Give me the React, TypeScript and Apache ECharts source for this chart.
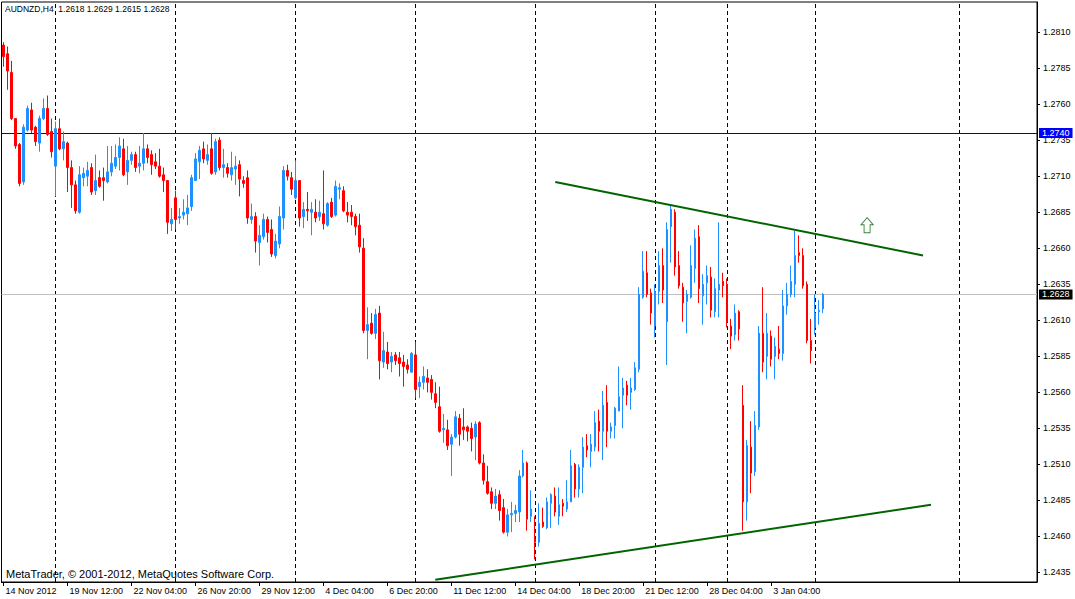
import React, { useEffect, useRef } from "react";
import * as echarts from "echarts";

const chartTitle = "AUDNZD,H4  1.2618 1.2629 1.2615 1.2628";
const copyright = "MetaTrader, © 2001-2012, MetaQuotes Software Corp.";

const opens = [
  1.2801,1.2795,1.2782,1.2750,1.2732,1.2706,1.2742,1.2756,1.2744,1.2733,
  1.2750,1.2757,1.2741,1.2717,1.2743,1.2729,1.2733,1.2716,1.2704,1.2685,
  1.2709,1.2710,1.2716,1.2700,1.2709,1.2709,1.2706,1.2713,1.2717,1.2723,
  1.2729,1.2713,1.2721,1.2725,1.2717,1.2719,1.2729,1.2725,1.2720,1.2717,
  1.2711,1.2707,1.2677,1.2695,1.2681,1.2683,1.2684,1.2689,1.2707,1.2720,
  1.2729,1.2721,1.2729,1.2713,1.2735,1.2716,1.2716,1.2711,1.2715,1.2718,
  1.2707,1.2709,1.2680,1.2682,1.2664,1.2668,1.2680,1.2673,1.2655,1.2663,
  1.2681,1.2714,1.2709,1.2695,1.2707,1.2682,1.2687,1.2685,1.2685,1.2682,
  1.2684,1.2676,1.2692,1.2683,1.2701,1.2700,1.2685,1.2685,1.2682,1.2676,
  1.2660,1.2603,1.2608,1.2601,1.2615,1.2581,1.2588,1.2581,1.2586,1.2584,
  1.2581,1.2579,1.2574,1.2586,1.2564,1.2567,1.2570,1.2569,1.2559,1.2550,
  1.2534,1.2534,1.2524,1.2529,1.2542,1.2536,1.2536,1.2535,1.2529,1.2539,
  1.2511,1.2498,1.2491,1.2483,1.2489,1.2480,1.2463,1.2475,1.2476,1.2477,
  1.2502,1.2511,1.2474,1.2458,1.2456,1.2470,1.2466,1.2483,1.2488,1.2474,
  1.2483,1.2479,1.2484,1.2510,1.2493,1.2508,1.2523,1.2519,1.2522,1.2540,
  1.2533,1.2553,1.2533,1.2537,1.2547,1.2558,1.2565,1.2560,1.2562,1.2576,
  1.2626,1.2643,1.2629,1.2606,1.2630,1.2648,1.2609,1.2675,1.2685,1.2648,
  1.2633,1.2623,1.2626,1.2646,1.2668,1.2627,1.2636,1.2640,1.2616,1.2631,
  1.2637,1.2635,1.2606,1.2600,1.2616,1.2551,1.2484,1.2522,1.2505,1.2536,
  1.2601,1.2585,1.2599,1.2585,1.2590,1.2587,1.2620,1.2628,1.2635,1.2657,
  1.2655,1.2635,1.2596,1.2605,1.2616,1.2618,
];

const highs = [
  1.2803,1.2800,1.2790,1.2750,1.2733,1.2746,1.2759,1.2761,1.2745,1.2752,
  1.2764,1.2766,1.2750,1.2748,1.2750,1.2741,1.2734,1.2721,1.2707,1.2717,
  1.2716,1.2720,1.2719,1.2725,1.2714,1.2716,1.2731,1.2731,1.2732,1.2737,
  1.2736,1.2731,1.2727,1.2727,1.2731,1.2740,1.2732,1.2728,1.2726,1.2729,
  1.2716,1.2707,1.2688,1.2700,1.2688,1.2694,1.2697,1.2711,1.2726,1.2731,
  1.2734,1.2732,1.2740,1.2736,1.2737,1.2729,1.2719,1.2727,1.2724,1.2721,
  1.2710,1.2714,1.2691,1.2685,1.2676,1.2684,1.2682,1.2680,1.2670,1.2689,
  1.2717,1.2718,1.2713,1.2721,1.2707,1.2692,1.2699,1.2692,1.2694,1.2693,
  1.2714,1.2692,1.2695,1.2707,1.2705,1.2703,1.2692,1.2690,1.2684,1.2684,
  1.2667,1.2619,1.2615,1.2618,1.2620,1.2602,1.2595,1.2588,1.2588,1.2588,
  1.2586,1.2583,1.2588,1.2595,1.2571,1.2578,1.2576,1.2572,1.2567,1.2564,
  1.2545,1.2541,1.2531,1.2547,1.2545,1.2549,1.2537,1.2539,1.2540,1.2540,
  1.2517,1.2509,1.2494,1.2493,1.2492,1.2486,1.2479,1.2484,1.2482,1.2506,
  1.2520,1.2512,1.2492,1.2474,1.2483,1.2480,1.2487,1.2490,1.2494,1.2494,
  1.2486,1.2499,1.2520,1.2511,1.2510,1.2529,1.2531,1.2531,1.2547,1.2548,
  1.2561,1.2565,1.2539,1.2550,1.2578,1.2570,1.2568,1.2570,1.2581,1.2633,
  1.2658,1.2658,1.2632,1.2635,1.2658,1.2660,1.2678,1.2690,1.2687,1.2658,
  1.2636,1.2631,1.2662,1.2673,1.2676,1.2642,1.2648,1.2647,1.2639,1.2678,
  1.2643,1.2639,1.2611,1.2621,1.2617,1.2565,1.2527,1.2540,1.2547,1.2606,
  1.2633,1.2615,1.2603,1.2598,1.2606,1.2631,1.2636,1.2648,1.2672,1.2669,
  1.2660,1.2637,1.2611,1.2628,1.2624,1.2629,
];

const lows = [
  1.2786,1.2770,1.2749,1.2729,1.2703,1.2704,1.2741,1.2740,1.2731,1.2727,
  1.2749,1.2738,1.2723,1.2696,1.2728,1.2721,1.2699,1.2688,1.2684,1.2684,
  1.2703,1.2703,1.2697,1.2697,1.2702,1.2693,1.2705,1.2710,1.2715,1.2714,
  1.2710,1.2704,1.2718,1.2713,1.2712,1.2714,1.2719,1.2711,1.2715,1.2709,
  1.2699,1.2670,1.2672,1.2673,1.2677,1.2680,1.2676,1.2686,1.2707,1.2708,
  1.2719,1.2718,1.2711,1.2711,1.2714,1.2709,1.2709,1.2707,1.2704,1.2696,
  1.2702,1.2677,1.2677,1.2657,1.2648,1.2666,1.2664,1.2654,1.2653,1.2660,
  1.2673,1.2707,1.2697,1.2694,1.2675,1.2674,1.2679,1.2669,1.2678,1.2679,
  1.2673,1.2675,1.2681,1.2682,1.2694,1.2685,1.2678,1.2676,1.2669,1.2657,
  1.2601,1.2583,1.2600,1.2597,1.2569,1.2577,1.2576,1.2574,1.2579,1.2571,
  1.2564,1.2573,1.2574,1.2556,1.2556,1.2562,1.2560,1.2555,1.2549,1.2532,
  1.2525,1.2520,1.2502,1.2528,1.2523,1.2527,1.2526,1.2519,1.2513,1.2510,
  1.2496,1.2489,1.2479,1.2479,1.2471,1.2462,1.2460,1.2463,1.2470,1.2470,
  1.2501,1.2464,1.2470,1.2444,1.2453,1.2466,1.2465,1.2466,1.2474,1.2468,
  1.2474,1.2477,1.2484,1.2487,1.2487,1.2490,1.2515,1.2508,1.2519,1.2519,
  1.2513,1.2522,1.2528,1.2528,1.2547,1.2535,1.2551,1.2548,1.2561,1.2574,
  1.2625,1.2626,1.2607,1.2598,1.2621,1.2622,1.2579,1.2650,1.2641,1.2632,
  1.2609,1.2601,1.2625,1.2636,1.2622,1.2607,1.2621,1.2612,1.2612,1.2612,
  1.2626,1.2605,1.2590,1.2596,1.2596,1.2464,1.2471,1.2490,1.2502,1.2534,
  1.2574,1.2569,1.2578,1.2569,1.2583,1.2582,1.2614,1.2626,1.2626,1.2650,
  1.2632,1.2594,1.2580,1.2600,1.2607,1.2615,
];

const closes = [
  1.2793,1.2783,1.2750,1.2731,1.2705,1.2744,1.2757,1.2742,1.2734,1.2750,
  1.2757,1.2739,1.2727,1.2743,1.2729,1.2734,1.2716,1.2704,1.2686,1.2711,
  1.2712,1.2714,1.2699,1.2707,1.2703,1.2707,1.2713,1.2719,1.2723,1.2731,
  1.2711,1.2721,1.2725,1.2716,1.2719,1.2729,1.2723,1.2718,1.2717,1.2710,
  1.2707,1.2678,1.2680,1.2680,1.2682,1.2685,1.2688,1.2709,1.2722,1.2728,
  1.2722,1.2725,1.2712,1.2734,1.2716,1.2718,1.2712,1.2716,1.2717,1.2708,
  1.2705,1.2681,1.2682,1.2665,1.2669,1.2680,1.2671,1.2656,1.2665,1.2682,
  1.2714,1.2710,1.2701,1.2707,1.2681,1.2687,1.2686,1.2687,1.2681,1.2685,
  1.2677,1.2691,1.2682,1.2703,1.2702,1.2686,1.2683,1.2682,1.2675,1.2661,
  1.2603,1.2607,1.2601,1.2614,1.2582,1.2589,1.2580,1.2585,1.2582,1.2580,
  1.2578,1.2576,1.2587,1.2562,1.2567,1.2571,1.2567,1.2560,1.2553,1.2533,
  1.2535,1.2523,1.2529,1.2543,1.2531,1.2534,1.2533,1.2528,1.2538,1.2511,
  1.2499,1.2490,1.2483,1.2488,1.2478,1.2463,1.2475,1.2476,1.2478,1.2502,
  1.2511,1.2472,1.2479,1.2456,1.2469,1.2467,1.2484,1.2489,1.2477,1.2482,
  1.2481,1.2484,1.2509,1.2493,1.2508,1.2522,1.2520,1.2524,1.2539,1.2533,
  1.2551,1.2533,1.2536,1.2549,1.2557,1.2563,1.2558,1.2563,1.2577,1.2628,
  1.2644,1.2628,1.2615,1.2630,1.2648,1.2631,1.2673,1.2687,1.2647,1.2634,
  1.2622,1.2628,1.2648,1.2667,1.2632,1.2635,1.2641,1.2617,1.2632,1.2635,
  1.2634,1.2609,1.2599,1.2615,1.2604,1.2484,1.2523,1.2504,1.2537,1.2601,
  1.2581,1.2601,1.2583,1.2592,1.2587,1.2620,1.2628,1.2637,1.2655,1.2655,
  1.2634,1.2596,1.2589,1.2615,1.2617,1.2628,
];

const barSlots = 259;
const timeLabels = [
  "14 Nov 2012", "19 Nov 12:00", "22 Nov 04:00", "26 Nov 20:00", "29 Nov 12:00",
  "4 Dec 04:00", "6 Dec 20:00", "11 Dec 12:00", "14 Dec 04:00", "18 Dec 20:00",
  "21 Dec 12:00", "28 Dec 04:00", "3 Jan 04:00",
];
const labelStep = 16;
const weekSeparators = [13, 43, 73, 103, 133, 163, 181, 203, 239];
const priceTicks = [
  1.2435, 1.246, 1.2485, 1.251, 1.2535, 1.256, 1.2585, 1.261,
  1.2635, 1.266, 1.2685, 1.271, 1.2735, 1.276, 1.2785, 1.281,
];
const priceMin = 1.24284;
const priceMax = 1.28309;
const horizontalLinePrice = 1.274;
const bidPrice = 1.2628;
const upperTrend = [[138, 1.2706], [230, 1.2655]];
const lowerTrend = [[108, 1.243], [232, 1.2482]];
const arrowPoint = [216, 1.2676];

const FONT = "'Liberation Sans', Arial, sans-serif";

export default function App() {
  const ref = useRef<HTMLDivElement>(null);

  useEffect(() => {
    if (!ref.current) return;
    const chart = echarts.init(ref.current, null, { renderer: "svg" });
    const categories = Array.from({ length: barSlots }, (_, i) => String(i));
    const candles = opens.map((o, i) => [o, closes[i], lows[i], highs[i]]);
    const showIdx = (i: number) => i % labelStep === 0 && i / labelStep < timeLabels.length;

    const priceLabel = (bg: string) => ({
      show: true,
      position: "end",
      distance: 2,
      formatter: (p: any) => Number(p.value).toFixed(4),
      color: "#ffffff",
      backgroundColor: bg,
      padding: [1, 3, 0, 3],
      lineHeight: 9,
      fontFamily: FONT,
      fontSize: 9,
    });

    const option: any = {
      animation: false,
      backgroundColor: "#ffffff",
      grid: {
        left: 1.5,
        right: 38,
        top: 2,
        bottom: 17,
        show: true,
        borderColor: "#000000",
        borderWidth: 1,
        backgroundColor: "#ffffff",
      },
      xAxis: {
        type: "category",
        data: categories,
        boundaryGap: true,
        axisLine: { show: true, lineStyle: { color: "#000000", width: 1 } },
        axisTick: {
          show: true,
          alignWithLabel: true,
          interval: (i: number) => showIdx(i),
          length: 4,
          lineStyle: { color: "#000000" },
        },
        axisLabel: {
          show: true,
          interval: (i: number) => showIdx(i),
          formatter: (_v: string, i: number) =>
            showIdx(i) ? timeLabels[i / labelStep] : "",
          align: "left",
          margin: 4,
          padding: [0, 0, 0, 2],
          color: "#000000",
          fontFamily: FONT,
          fontSize: 9,
        },
        splitLine: { show: false },
      },
      yAxis: {
        type: "value",
        position: "right",
        min: priceMin,
        max: priceMax,
        axisLine: { show: true, lineStyle: { color: "#000000", width: 1 } },
        axisTick: {
          show: true,
          length: 3,
          customValues: priceTicks,
          lineStyle: { color: "#000000" },
        },
        axisLabel: {
          show: true,
          customValues: priceTicks,
          formatter: (v: number) => v.toFixed(4),
          margin: 6,
          color: "#000000",
          fontFamily: FONT,
          fontSize: 9,
        },
        splitLine: { show: false },
      },
      graphic: [
        {
          type: "text",
          left: 5,
          top: 4,
          silent: true,
          style: { text: chartTitle, fill: "#000000", font: `8.5px ${FONT}` },
        },
        {
          type: "text",
          left: 6,
          top: 568,
          silent: true,
          style: { text: copyright, fill: "#000000", font: `11px ${FONT}` },
        },
      ],
      series: [
        {
          type: "candlestick",
          data: candles,
          barWidth: 2,
          itemStyle: {
            color: "#1E90FF",
            color0: "#FF0000",
            borderColor: "#1E90FF",
            borderColor0: "#FF0000",
            borderWidth: 1,
          },
          z: 3,
          markLine: {
            silent: true,
            symbol: ["none", "none"],
            animation: false,
            precision: 5,
            z: 2,
            data: [
              ...weekSeparators.map((i) => ({
                xAxis: i,
                lineStyle: { color: "#000000", type: [4, 3], width: 1 },
                label: { show: false },
              })),
              {
                yAxis: horizontalLinePrice,
                lineStyle: { color: "#0000CD", type: "solid", width: 1 },
                label: priceLabel("#0000FF"),
              },
              {
                yAxis: bidPrice,
                lineStyle: { color: "#C0C0C0", type: "solid", width: 1 },
                label: priceLabel("#000000"),
              },
            ],
          },
        },
        {
          type: "line",
          data: upperTrend,
          symbol: "none",
          silent: true,
          z: 4,
          lineStyle: { color: "#006400", width: 2 },
        },
        {
          type: "line",
          data: lowerTrend,
          symbol: "none",
          silent: true,
          z: 4,
          lineStyle: { color: "#006400", width: 2 },
        },
        {
          type: "scatter",
          data: [arrowPoint],
          symbol: "path://M6,0L12,7L9,7L9,15L3,15L3,7L0,7Z",
          symbolSize: [12, 15],
          silent: true,
          z: 5,
          itemStyle: { color: "#ffffff", borderColor: "#006400", borderWidth: 1 },
        },
      ],
    };

    chart.setOption(option);
    return () => chart.dispose();
  }, []);

  return (
    <div
      ref={ref}
      style={{ position: "fixed", left: 0, top: 0, width: 1075, height: 599, background: "#fff" }}
    />
  );
}
